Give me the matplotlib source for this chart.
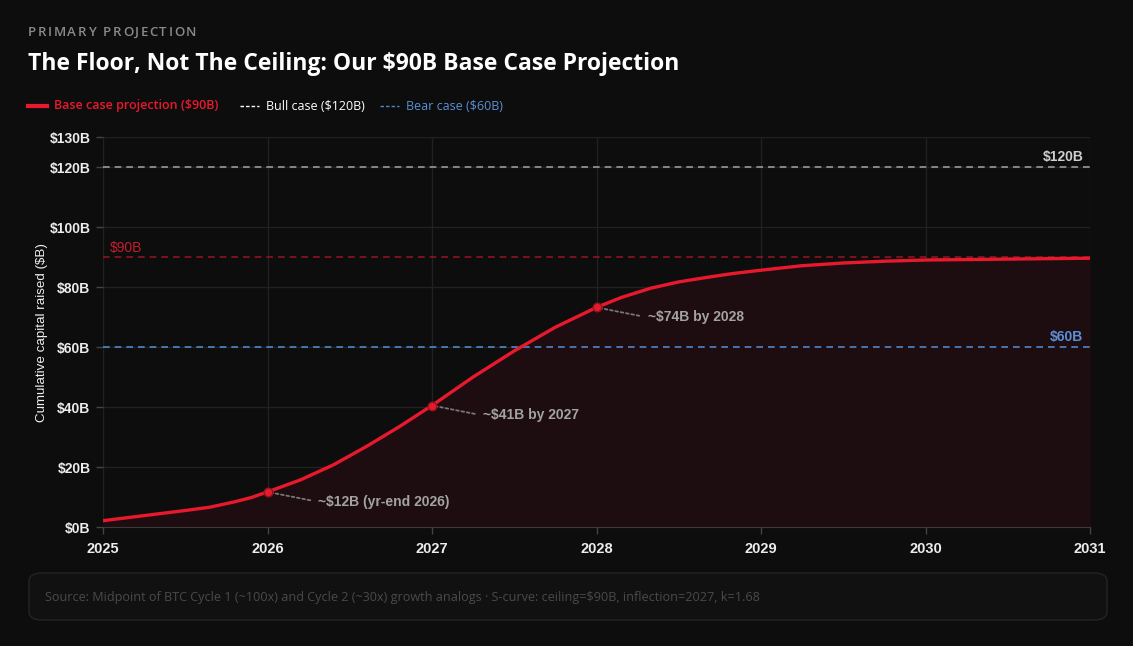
import matplotlib
matplotlib.use("Agg")
import matplotlib.pyplot as plt
from matplotlib.patches import FancyBboxPatch
from matplotlib.lines import Line2D

# values
years = [2025.0, 2025.25, 2025.5, 2025.65, 2025.8, 2025.9, 2026.0, 2026.2, 2026.4,
         2026.6, 2026.8, 2027.0, 2027.25, 2027.5, 2027.75, 2028.0, 2028.15, 2028.33,
         2028.5, 2028.67, 2028.83, 2029.0, 2029.25, 2029.5, 2029.75, 2030.0,
         2030.5, 2031.0]
capital = [2.1, 3.8, 5.5, 6.6, 8.4, 9.8, 11.7, 15.7, 20.7,
           26.8, 33.4, 40.5, 50.0, 58.7, 66.6, 73.2, 76.5, 79.6,
           81.7, 83.2, 84.5, 85.6, 87.1, 88.0, 88.6, 89.0,
           89.3, 89.6]

milestone_years = [2026, 2027, 2028]
milestone_values = [11.7, 40.5, 73.2]
milestone_labels = ["~$12B (yr-end 2026)", "~$41B by 2027", "~$74B by 2028"]

base_case = 90
bull_case = 120
bear_case = 60

x_ticks = [2025, 2026, 2027, 2028, 2029, 2030, 2031]
y_ticks = [0, 20, 40, 60, 80, 100, 120, 130]
y_tick_labels = ["$0B", "$20B", "$40B", "$60B", "$80B", "$100B", "$120B", "$130B"]

BG = "#0d0d0d"
RED = "#e8192c"
GRID = "#212121"
BLUE = "#4f86c9"

W, H = 1133, 646
fig = plt.figure(figsize=(W / 100, H / 100), dpi=100, facecolor=BG)
ax = fig.add_axes([103 / W, 1 - 527 / H, (1090 - 103) / W, (527 - 137) / H])
ax.set_facecolor(BG)

ax.set_xlim(2025, 2031)
ax.set_ylim(0, 130)
ax.set_xticks(x_ticks)
ax.set_xticklabels([str(t) for t in x_ticks])
ax.set_yticks(y_ticks)
ax.set_yticklabels(y_tick_labels)
ax.grid(True, color=GRID, linewidth=1)
ax.set_axisbelow(True)
for s in ["top", "right", "left"]:
    ax.spines[s].set_visible(False)
ax.spines["bottom"].set_color("#3a3a3a")
ax.tick_params(colors="#444444", length=5, width=1)
ax.tick_params(axis="x", pad=6)
ax.tick_params(axis="y", pad=4)
for lab in ax.get_xticklabels():
    lab.set_fontsize(10.5)
for lab in ax.get_yticklabels():
    lab.set_fontsize(10)
for lab in ax.get_xticklabels() + ax.get_yticklabels():
    lab.set_color("#ececec")
    lab.set_fontfamily("Liberation Sans")
    lab.set_fontweight("bold")
ax.set_ylabel("Cumulative capital raised ($B)", color="#f0f0f0",
              fontfamily="Liberation Sans", fontsize=9.6, labelpad=1)

# reference lines
ax.axhline(bull_case, color="#9a9a9a", linestyle=(0, (4, 3)), linewidth=1.2)
ax.axhline(bear_case, color=BLUE, linestyle=(0, (4, 3)), linewidth=1.2)
ax.axhline(base_case, color="#8e1522", linestyle=(0, (4, 3)), linewidth=1.2)
ax.text(2030.96, bull_case + 1.0, "$120B", color="#cfcfcf", fontsize=10,
        fontweight="bold", fontfamily="Liberation Sans", ha="right", va="bottom")
ax.text(2030.96, bear_case + 1.0, "$60B", color="#5b8fd6", fontsize=10,
        fontweight="bold", fontfamily="Liberation Sans", ha="right", va="bottom")
ax.text(2025.04, base_case + 0.7, "$90B", color="#c41e2e", fontsize=10,
        fontfamily="Liberation Sans", ha="left", va="bottom")

# projection curve
ax.fill_between(years, capital, 0, color="#1e0d10", zorder=1)
ax.plot(years, capital, color=RED, linewidth=2.4, solid_capstyle="round",
        solid_joinstyle="round", zorder=4)
ax.scatter(milestone_years, milestone_values, s=38, color=RED,
           edgecolors="#8e1522", linewidths=1, zorder=5)

for mx, my, lab in zip(milestone_years, milestone_values, milestone_labels):
    ax.annotate(lab, xy=(mx, my), xytext=(51, -10), textcoords="offset pixels",
                color="#a3a3a3", fontsize=10, fontweight="bold",
                fontfamily="Liberation Sans", ha="left", va="center",
                arrowprops=dict(arrowstyle="-", linestyle=(0, (1.5, 1.5)),
                                color="#777777", linewidth=1.3,
                                shrinkA=4, shrinkB=4, relpos=(0, 0.5)))


def spaced_text(x, y, s, spacing, **kw):
    r = fig.canvas.get_renderer()
    for ch in s:
        t = fig.text(x, y, ch, **kw)
        w = t.get_window_extent(renderer=r).width
        if ch == " ":
            w = 4
        x += (w + spacing) / W


spaced_text(28 / W, 1 - 32 / H, "PRIMARY PROJECTION", 1.6, color="#8a8a8a",
            fontsize=9.5, fontweight="semibold", fontfamily="Open Sans", va="center")
fig.text(28 / W, 1 - 64 / H, "The Floor, Not The Ceiling: Our $90B Base Case Projection",
         color="white", fontsize=16.5, fontweight="bold", fontfamily="Open Sans",
         va="center")

# legend row
ly = 1 - 106 / H
fig.add_artist(Line2D([28 / W, 47 / W], [ly, ly], color=RED, linewidth=3))
fig.text(54 / W, ly, "Base case projection ($90B)", color=RED, fontsize=9,
         fontweight="semibold", fontfamily="Open Sans", va="center")
fig.add_artist(Line2D([240 / W, 259 / W], [ly, ly], color="white", linewidth=1,
                      linestyle=(0, (2.5, 1.5))))
fig.text(266 / W, ly, "Bull case ($120B)", color="white", fontsize=9,
         fontfamily="Open Sans", va="center")
fig.add_artist(Line2D([380 / W, 399 / W], [ly, ly], color=BLUE, linewidth=1,
                      linestyle=(0, (2.5, 1.5))))
fig.text(406 / W, ly, "Bear case ($60B)", color="#5b8fd6", fontsize=9,
         fontfamily="Open Sans", va="center")

# footer box
box = FancyBboxPatch((29 / W, 1 - 620 / H), (1107 - 29) / W, (620 - 573) / H,
                     boxstyle="round,pad=0,rounding_size=0.012",
                     transform=fig.transFigure, facecolor="#111111",
                     edgecolor="#242424", linewidth=1)
fig.add_artist(box)
fig.text(45 / W, 1 - 597 / H,
         "Source: Midpoint of BTC Cycle 1 (~100x) and Cycle 2 (~30x) growth analogs "
         "\u00b7 S-curve: ceiling=$90B, inflection=2027, k=1.68",
         color="#4a4a4a", fontsize=9.1, fontfamily="Open Sans", va="center")

fig.savefig("out.png", dpi=100, facecolor=BG)
